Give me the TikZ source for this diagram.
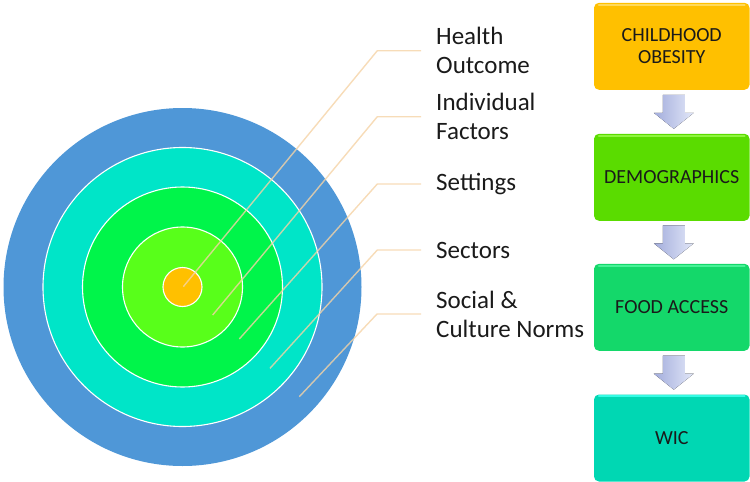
\documentclass[tikz,border=0pt]{standalone}
\usepackage{fontspec}
\setmainfont{Carlito}
\usetikzlibrary{calc}

\definecolor{ringblue}{HTML}{4F97D7}
\definecolor{ringcyan}{HTML}{00E5C8}
\definecolor{ringgreen}{HTML}{00F54A}
\definecolor{ringlime}{HTML}{58FF1A}
\definecolor{ringcore}{HTML}{FFC000}
\definecolor{leadercol}{HTML}{F5D3A6}
\definecolor{inkcol}{HTML}{1A1A1A}
\definecolor{boxA}{HTML}{FFC000}
\definecolor{boxAtop}{HTML}{FFD95A}
\definecolor{boxB}{HTML}{5ADC00}
\definecolor{boxBtop}{HTML}{8EF53E}
\definecolor{boxC}{HTML}{14D86A}
\definecolor{boxCtop}{HTML}{46F296}
\definecolor{boxD}{HTML}{00D7B3}
\definecolor{boxDtop}{HTML}{34FBE4}
\definecolor{arrowL}{HTML}{A3ADDC}
\definecolor{arrowM}{HTML}{AAB4E1}
\definecolor{arrowR}{HTML}{E2E7F8}

\tikzset{
  ring/.style={draw=white, line width=1.1pt},
  leader/.style={draw=leadercol, line width=1.4pt, opacity=0.8},
  ringlabel/.style={anchor=west, inner xsep=15pt, inner ysep=0pt, align=left,
    text=inkcol, font=\fontsize{25}{29}\selectfont},
  stepbox/.style={rounded corners=5pt, minimum width=155.5pt, minimum height=87pt,
    align=center, text=inkcol, font=\fontsize{20}{22}\selectfont},
  boxshine/.style={line width=2pt, line cap=round},
  flowshade/.style={left color=arrowL, middle color=arrowM, right color=arrowR}
}

\newcommand{\flowarrow}[1]{%
  \fill[flowshade] ($(#1)+(-11,-17)$) -- ($(#1)+(11,-17)$) -- ($(#1)+(11,1)$)
    -- ($(#1)+(20,1)$) -- ($(#1)+(0,17)$) -- ($(#1)+(-20,1)$)
    -- ($(#1)+(-11,1)$) -- cycle;}

\begin{document}
\begin{tikzpicture}[x=1pt, y=-1pt]
\useasboundingbox (0,0) rectangle (750,482);

% concentric rings of the model
\coordinate (ctr) at (182.5,287);
\fill[ringblue] (ctr) circle[radius=179pt];
\filldraw[ring, fill=ringcyan] (ctr) circle[radius=139.5pt];
\filldraw[ring, fill=ringgreen] (ctr) circle[radius=100pt];
\filldraw[ring, fill=ringlime] (ctr) circle[radius=60pt];
\filldraw[ring, fill=ringcore] (ctr) circle[radius=19.5pt];

% labels of the rings
\node[ringlabel] (l1) at (421,50.7) {Health\\Outcome};
\node[ringlabel] (l2) at (421,116.7) {Individual\\Factors};
\node[ringlabel] (l3) at (421,184) {Settings};
\node[ringlabel] (l4) at (421,250) {Sectors};
\node[ringlabel] (l5) at (421,314) {Social \&\\Culture Norms};

% leader lines from each ring to its label
\coordinate (p1) at (183.3,286.7);  \coordinate (k1) at (377.3,50.7);
\coordinate (p2) at (212.7,315);    \coordinate (k2) at (377.3,116.7);
\coordinate (p3) at (239.3,339);    \coordinate (k3) at (377.3,184);
\coordinate (p4) at (270,368.3);    \coordinate (k4) at (377.3,250);
\coordinate (p5) at (299.3,396.7);  \coordinate (k5) at (377,314);
\foreach \i in {1,...,5}
  \draw[leader] (p\i) -- (k\i) -- (l\i.west);

% process boxes
\node[stepbox, fill=boxA] (b1) at (671.75,46.3) {CHILDHOOD\\OBESITY};
\node[stepbox, fill=boxB] (b2) at (671.75,177.3) {DEMOGRAPHICS};
\node[stepbox, fill=boxC] (b3) at (671.75,307.3) {FOOD ACCESS};
\node[stepbox, fill=boxD] (b4) at (671.75,438) {WIC};

% light upper rims of the boxes
\draw[boxshine, boxAtop] ($(b1.north west)+(5,2)$) -- ($(b1.north east)+(-5,2)$);
\draw[boxshine, boxBtop] ($(b2.north west)+(5,2)$) -- ($(b2.north east)+(-5,2)$);
\draw[boxshine, boxCtop] ($(b3.north west)+(5,2)$) -- ($(b3.north east)+(-5,2)$);
\draw[boxshine, boxDtop] ($(b4.north west)+(5,2)$) -- ($(b4.north east)+(-5,2)$);

% block arrows between the boxes
\coordinate (a1) at ($($(b1.south)!0.5!(b2.north)$)+(2,0)$);
\coordinate (a2) at ($($(b2.south)!0.5!(b3.north)$)+(2,0)$);
\coordinate (a3) at ($($(b3.south)!0.5!(b4.north)$)+(2,0)$);
\flowarrow{a1}
\flowarrow{a2}
\flowarrow{a3}
\end{tikzpicture}
\end{document}
